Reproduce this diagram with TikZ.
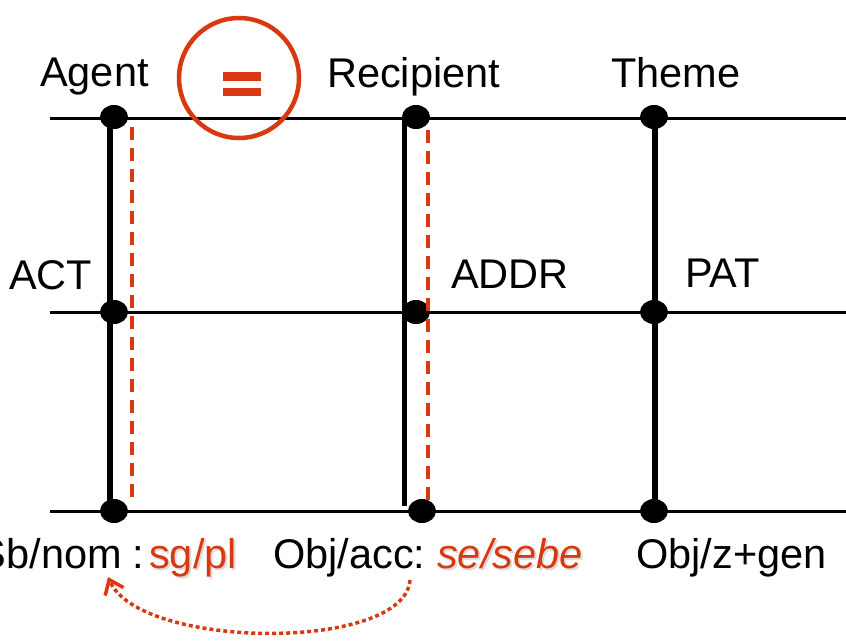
\documentclass[tikz,border=0pt]{standalone}
\usepackage{fontspec}
\setmainfont{Liberation Sans}
\usetikzlibrary{shapes.geometric,arrows.meta}
\definecolor{accent}{RGB}{217,56,16}
\tikzset{
  lbl/.style={inner sep=0pt, anchor=base west, font=\fontsize{41.5}{49}\selectfont},
  redlbl/.style={lbl, text=accent},
  shadowlbl/.style={lbl, text=black!25, opacity=0.55},
  tier/.style={line width=3pt, black},
  stem/.style={line width=5.5pt, black},
  link/.style={line width=4.2pt, accent, dash pattern=on 13pt off 8pt},
  dot/.style={ellipse, fill=black, inner sep=0pt, minimum width=28pt, minimum height=24pt},
  coref/.style={line width=3.5pt, accent, dash pattern=on 4pt off 3pt,
    -{Straight Barb[length=13pt,width=20pt,line width=3.5pt]}}
}
\begin{document}
\begin{tikzpicture}[x=1pt,y=-1pt]
\useasboundingbox (0,0) rectangle (846,641);

% three tiers
\foreach \n/\y in {top/118, mid/312, bot/511}{
  \coordinate (\n L) at (50,\y);
  \coordinate (\n R) at (846,\y);
  \draw[tier] (\n L) -- (\n R);
}

% stems of the three participants
\coordinate (aT) at (110,118);  \coordinate (aB) at (110,511);
\coordinate (rT) at (404.5,118); \coordinate (rB) at (404.5,506);
\coordinate (tT) at (655,118);  \coordinate (tB) at (655,511);
\draw[stem] (aT) -- (aB);
\draw[stem] (rT) -- (rB);
\draw[stem] (tT) -- (tB);

% nodes on the tiers
\node[dot] (a1) at (114,117) {};
\node[dot] (a2) at (114,312) {};
\node[dot] (a3) at (114,511) {};
\node[dot] (r1) at (416,117) {};
\node[dot] (r2) at (416,312) {};
\node[dot] (r3) at (422,511) {};
\node[dot] (t1) at (654,117) {};
\node[dot] (t2) at (654,312) {};
\node[dot] (t3) at (654,511) {};

% coreference links
\coordinate (aDT) at (132,127); \coordinate (aDB) at (132,497);
\coordinate (rDT) at (428,130); \coordinate (rDB) at (428,505);
\draw[link] (aDT) -- (aDB);
\draw[link] (rDT) -- (rDB);

% identity mark
\draw[accent, line width=4.5pt] (239,78) circle[radius=60];
\fill[accent] (223,72) rectangle (261,81);
\fill[accent] (223,88) rectangle (261,96);

% role labels
\node[lbl] (agent) at (40,86) {Agent};
\node[lbl] (recip) at (327,87) {Recipient};
\node[lbl] (theme) at (611,87) {Theme};
\node[lbl] (act) at (9,289) {ACT};
\node[lbl] (addr) at (451,288) {ADDR};
\node[lbl] (pat) at (685,287) {PAT};

% surface forms
\node[lbl, anchor=base east] (sb) at (122,568) {Sb/nom};
\node[lbl] (colon) at (132,568) {:};
\node[shadowlbl] at (151,570.5) {sg/pl};
\node[redlbl] (sgpl) at (149,568) {sg/pl};
\node[lbl] (obj) at (273,568) {Obj/acc:};
\node[shadowlbl] at (439,570.5) {\itshape se/sebe};
\node[redlbl] (sebe) at (437,568) {\itshape se/sebe};
\node[lbl] (gen) at (636,568) {Obj/z+gen};

% dotted coreference arrow
\coordinate (arrS) at (410,580);
\coordinate (arrE) at (108,577);
\draw[coref] (arrS) .. controls (405,652) and (140,650) .. (arrE);
\end{tikzpicture}
\end{document}
